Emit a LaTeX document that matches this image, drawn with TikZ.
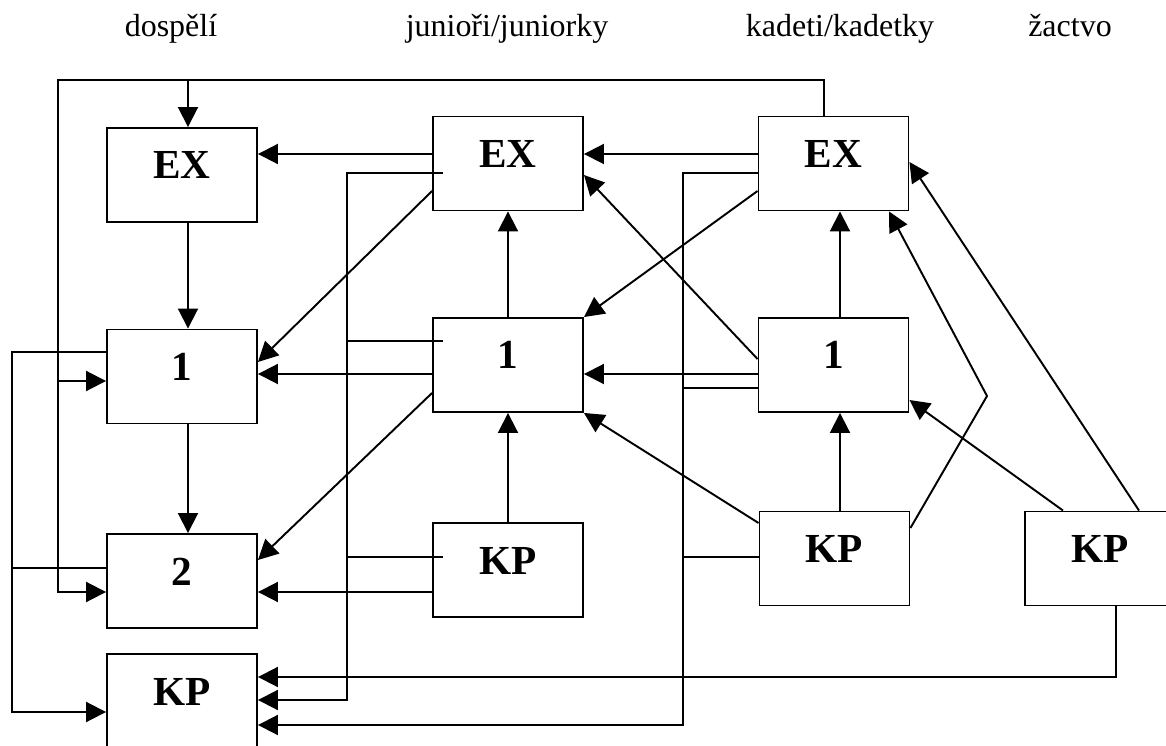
\documentclass[tikz,border=0pt]{standalone}
\usepackage{fontspec}
\setmainfont{Liberation Serif}
\usepackage{tikz}
\usetikzlibrary{arrows.meta,calc}

\begin{document}
\begin{tikzpicture}[x=0.02cm,y=-0.02cm,line width=1.1pt,
  box/.style={draw,inner sep=0pt,minimum width=3cm,minimum height=1.88cm,
    text height=0.46cm,text depth=0.3cm,font=\bfseries\fontsize{23.5}{26}\selectfont},
  hdr/.style={anchor=base,inner sep=0pt,font=\fontsize{18.2}{22}\selectfont},
  arr/.style={-{Triangle[length=11.4pt,width=11.4pt]}}]
\useasboundingbox (0,0) rectangle (1166,746);
% headings
\node[hdr] (hA) at (171,37) {dospělí};
\node[hdr] (hB) at (507,37) {junioři/juniorky};
\node[hdr] (hC) at (840,37) {kadeti/kadetky};
\node[hdr] (hD) at (1070,37) {žactvo};
% boxes
\node[box] (exA) at (182,175) {EX};
\node[box] (oneA) at (182,376.5) {1};
\node[box] (twoA) at (182,581) {2};
\node[box] (kpA) at (182,701) {KP};
\node[box] (exB) at (508,163.5) {EX};
\node[box] (oneB) at (508,365) {1};
\node[box] (kpB) at (508,570) {KP};
\node[box] (exC) at (833.5,163.5) {EX};
\node[box] (oneC) at (833.5,365) {1};
\node[box] (kpC) at (834.5,558.5) {KP};
\node[box] (kpD) at (1100,558.5) {KP};
% junctions
\coordinate (topA) at (188,80);
\coordinate (loopL) at (58,80);
\coordinate (loopA) at (58,381);
\coordinate (outL) at (12,568);
\coordinate (jB) at (347,700);
\coordinate (jC) at (683,725);
\coordinate (bend) at (987,396);
% top loop from kadeti EX
\draw[arr] (exC.north -| 824,0) |- (loopL) |- (twoA.west |- 0,592);
\draw[arr] (topA) -- (exA.north -| topA);
\draw[arr] (loopA) -- (oneA.west |- loopA);
% outer left line
\draw[arr] (oneA.west |- 0,352) -| (12,712) -- (kpA.west |- 0,712);
\draw (twoA.west |- outL) -- (outL);
% dospeli column
\draw[arr] (exA.south -| topA) -- (oneA.north -| topA);
\draw[arr] (oneA.south -| topA) -- (twoA.north -| topA);
% junioři to dospělí
\draw[arr] (exB.west |- 0,154) -- (exA.east |- 0,154);
\draw[arr] (exB.west |- 0,191) -- (oneA.east |- 0,362);
\draw[arr] (oneB.west |- 0,374) -- (oneA.east |- 0,374);
\draw[arr] (oneB.west |- 0,393) -- (twoA.east |- 0,560);
\draw[arr] (kpB.west |- 0,592) -- (twoA.east |- 0,592);
\draw[arr] ($(exB.west |- 0,173)+(11,0)$) -| (jB) -- (kpA.east |- jB);
\draw ($(oneB.west |- 0,341)+(11,0)$) -- (jB |- 0,341);
\draw ($(kpB.west |- 0,557)+(11,0)$) -- (jB |- 0,557);
% junioři column
\draw[arr] (oneB.north) -- (exB.south);
\draw[arr] (kpB.north) -- (oneB.south);
% kadeti to junioři
\draw[arr] (exC.west |- 0,154) -- (exB.east |- 0,154);
\draw[arr] (exC.west |- 0,191) -- (oneB.north east);
\draw[arr] (oneC.west |- 0,359) -- (exB.east |- 0,175);
\draw[arr] (oneC.west |- 0,374) -- (oneB.east |- 0,374);
\draw[arr] (kpC.west |- 0,523) -- (oneB.south east);
\draw[arr] (exC.west |- 0,173) -| (jC) -- (kpA.east |- jC);
\draw (oneC.west |- 0,388) -- (jC |- 0,388);
\draw (kpC.west |- 0,557) -- (jC |- 0,557);
% kadeti column
\draw[arr] (oneC.north -| 840,0) -- (exC.south -| 840,0);
\draw[arr] (kpC.north -| 840,0) -- (oneC.south -| 840,0);
\draw[arr] (kpC.east |- 0,528) -- (bend) -- (exC.south -| 889,0);
% žactvo
\draw[arr] (kpD.north -| 1063,0) -- (oneC.east |- 0,400);
\draw[arr] (kpD.north -| 1139,0) -- (exC.east |- 0,162);
\draw[arr] (kpD.south -| 1116,0) |- (kpA.east |- 0,677);
\end{tikzpicture}
\end{document}
